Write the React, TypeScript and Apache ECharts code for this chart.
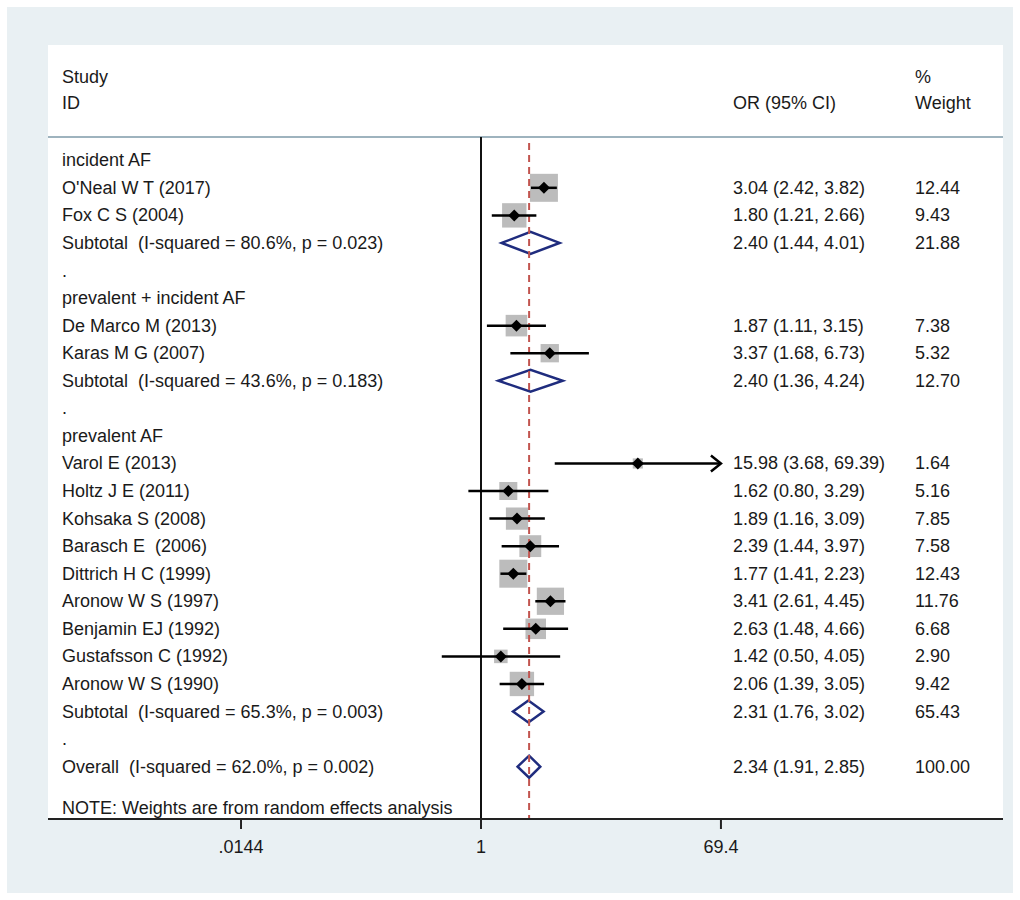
import React, { useEffect, useRef } from 'react';
import * as echarts from 'echarts';

// rows below the "incident AF" heading, top to bottom
const rowLabels = [
  'incident AF',
  "O'Neal W T (2017)",
  'Fox C S (2004)',
  'Subtotal  (I-squared = 80.6%, p = 0.023)',
  '.',
  'prevalent + incident AF',
  'De Marco M (2013)',
  'Karas M G (2007)',
  'Subtotal  (I-squared = 43.6%, p = 0.183)',
  '.',
  'prevalent AF',
  'Varol E (2013)',
  'Holtz J E (2011)',
  'Kohsaka S (2008)',
  'Barasch E  (2006)',
  'Dittrich H C (1999)',
  'Aronow W S (1997)',
  'Benjamin EJ (1992)',
  'Gustafsson C (1992)',
  'Aronow W S (1990)',
  'Subtotal  (I-squared = 65.3%, p = 0.003)',
  '.',
  'Overall  (I-squared = 62.0%, p = 0.002)',
];
// h = heading, s = study, d = pooled diamond
const rowKinds = ['h', 's', 's', 'd', 'h', 'h', 's', 's', 'd', 'h', 'h', 's', 's', 's', 's', 's', 's', 's', 's', 's', 'd', 'h', 'd'];
const orValues = [null, 3.04, 1.8, 2.4, null, null, 1.87, 3.37, 2.4, null, null, 15.98, 1.62, 1.89, 2.39, 1.77, 3.41, 2.63, 1.42, 2.06, 2.31, null, 2.34];
const lowerCI = [null, 2.42, 1.21, 1.44, null, null, 1.11, 1.68, 1.36, null, null, 3.68, 0.8, 1.16, 1.44, 1.41, 2.61, 1.48, 0.5, 1.39, 1.76, null, 1.91];
const upperCI = [null, 3.82, 2.66, 4.01, null, null, 3.15, 6.73, 4.24, null, null, 69.39, 3.29, 3.09, 3.97, 2.23, 4.45, 4.66, 4.05, 3.05, 3.02, null, 2.85];
const weights = [null, 12.44, 9.43, 21.88, null, null, 7.38, 5.32, 12.7, null, null, 1.64, 5.16, 7.85, 7.58, 12.43, 11.76, 6.68, 2.9, 9.42, 65.43, null, 100.0];
const tickLabels = ['.0144', '1', '69.4'];

const FONT = '"Liberation Sans", Arial, sans-serif';
const FS = 18;
const AXIS_ROW = 26.9;
const keepSpaces = (s: string) => s.replace(/  /g, ' \u00a0');
const lg = (v: number) => Math.log10(v);
const tickValues = tickLabels.map((t) => lg(Number(t)));
const clipMax = tickValues[tickValues.length - 1];

const App: React.FC = () => {
  const chartRef = useRef<HTMLDivElement>(null);

  useEffect(() => {
    if (!chartRef.current) return;
    const chart = echarts.init(chartRef.current, null, { renderer: 'svg' });
    const txt = (x: number, y: number, s: string) => ({
      type: 'text',
      x,
      y,
      style: { text: keepSpaces(s), fill: '#1a1a1a', font: `${FS}px ${FONT}`, verticalAlign: 'middle' },
    });

    const renderShapes = (params: any, api: any) => {
      const i = params.dataIndex;
      const row = i + 3;
      const y = api.coord([0, row])[1];
      const children: any[] = [txt(62, y, rowLabels[i])];
      const or = orValues[i];
      if (or != null) {
        children.push(txt(733, y, `${or.toFixed(2)} (${lowerCI[i]!.toFixed(2)}, ${upperCI[i]!.toFixed(2)})`));
        children.push(txt(915, y, weights[i]!.toFixed(2)));
        const xc = api.coord([lg(or), row])[0];
        const xl = api.coord([lg(lowerCI[i]!), row])[0];
        const xh = api.coord([Math.min(lg(upperCI[i]!), clipMax), row])[0];
        if (rowKinds[i] === 's') {
          const side = 7.94 * Math.sqrt(weights[i]!);
          children.push({
            type: 'rect',
            shape: { x: xc - side / 2, y: y - side / 2, width: side, height: side },
            style: { fill: '#bcbcbc' },
          });
        } else {
          children.push({
            type: 'polygon',
            shape: { points: [[xl, y], [xc, y - 11], [xh, y], [xc, y + 11]] },
            style: { fill: 'none', stroke: '#1f2c7e', lineWidth: 2.5 },
            z2: 5,
          });
        }
      }
      return { type: 'group', children };
    };

    const renderCI = (params: any, api: any) => {
      const i = params.dataIndex;
      const row = i + 3;
      const or = orValues[i];
      if (or == null || rowKinds[i] !== 's') return { type: 'group', children: [] };
      const y = api.coord([0, row])[1];
      const xc = api.coord([lg(or), row])[0];
      const xl = api.coord([lg(lowerCI[i]!), row])[0];
      const clipped = lg(upperCI[i]!) >= clipMax - 0.01;
      const xh = api.coord([Math.min(lg(upperCI[i]!), clipMax), row])[0];
      const children: any[] = [
        { type: 'line', shape: { x1: xl, y1: y, x2: xh, y2: y }, style: { stroke: '#000', lineWidth: 2.5 } },
        {
          type: 'polygon',
          shape: { points: [[xc - 6, y], [xc, y - 6], [xc + 6, y], [xc, y + 6]] },
          style: { fill: '#000' },
        },
      ];
      if (clipped) {
        children.push({
          type: 'polyline',
          shape: { points: [[xh - 10, y - 8], [xh, y], [xh - 10, y + 8]] },
          style: { stroke: '#000', lineWidth: 2.5, fill: 'none' },
        });
      }
      return { type: 'group', children };
    };

    // reference lines, plus the x axis line and its ticks at AXIS_ROW
    const renderRefLines = (params: any, api: any) => {
      const top = api.coord([0, 2.16])[1];
      const bottom = api.coord([0, AXIS_ROW])[1];
      const x1 = api.coord([0, 0])[0];
      const xo = api.coord([lg(orValues[orValues.length - 1]!), 0])[0];
      const size = api.size([1, 0]);
      const gridLeft = api.coord([-3.323, 0])[0];
      const gridRight = api.coord([4.006, 0])[0];
      const ticks = tickValues.map((t) => {
        const xt = api.coord([t, 0])[0];
        return { type: 'line', shape: { x1: xt, y1: bottom, x2: xt, y2: bottom + 10 }, style: { stroke: '#222', lineWidth: 2 } };
      });
      void size;
      return {
        type: 'group',
        children: [
          { type: 'line', shape: { x1, y1: top, x2: x1, y2: bottom }, style: { stroke: '#111', lineWidth: 2 } },
          {
            type: 'line',
            shape: { x1: xo, y1: top + 6, x2: xo, y2: bottom },
            style: { stroke: '#c2544f', lineWidth: 2, lineDash: [7, 5] },
          },
          { type: 'line', shape: { x1: gridLeft, y1: bottom, x2: gridRight, y2: bottom }, style: { stroke: '#222', lineWidth: 2 } },
          ...ticks,
        ],
      };
    };

    const option = {
      animation: false,
      graphic: [
        { type: 'line', shape: { x1: 48, y1: 137, x2: 1003, y2: 137 }, style: { stroke: '#7e9aa8', lineWidth: 1.5 } },
        txt(62, 77, 'Study'),
        txt(62, 103, 'ID'),
        txt(733, 103, 'OR (95% CI)'),
        txt(915, 77, '%'),
        txt(915, 103, 'Weight'),
        txt(62, 808, 'NOTE: Weights are from random effects analysis'),
      ],
      // grid reaches below the axis row so the ticks stay inside it
      grid: { left: 48, right: 17, top: 50, height: 820 },
      xAxis: {
        type: 'value',
        position: 'bottom',
        min: -3.323,
        max: 4.006,
        splitLine: { show: false },
        axisLine: { show: false, onZero: false },
        axisTick: { show: false },
        axisLabel: {
          customValues: tickValues,
          margin: -32,
          fontSize: FS,
          fontFamily: FONT,
          color: '#1a1a1a',
          formatter: (v: number) => {
            let best = 0;
            tickValues.forEach((t, k) => {
              if (Math.abs(t - v) < Math.abs(tickValues[best] - v)) best = k;
            });
            return tickLabels[best];
          },
        },
      },
      yAxis: { type: 'value', min: -1, max: 28.75, inverse: true, show: false },
      series: [
        { type: 'custom', renderItem: renderShapes, data: rowLabels.map((_, i) => [0, i + 3]), z: 2, clip: false },
        { type: 'custom', renderItem: renderRefLines, data: [[0, 0]], z: 3, clip: false },
        { type: 'custom', renderItem: renderCI, data: rowLabels.map((_, i) => [0, i + 3]), z: 4, clip: false },
      ],
    };

    chart.setOption(option);
    return () => chart.dispose();
  }, []);

  return (
    <div style={{ position: 'absolute', left: 0, top: 0, width: 1020, height: 900, background: '#fff' }}>
      <div style={{ position: 'absolute', left: 7, top: 7, width: 1006, height: 886, background: '#e9f0f3' }} />
      <div style={{ position: 'absolute', left: 48, top: 45, width: 955, height: 774, background: '#fff' }} />
      <div ref={chartRef} style={{ position: 'absolute', left: 0, top: 0, width: 1020, height: 900 }} />
    </div>
  );
};

export default App;
